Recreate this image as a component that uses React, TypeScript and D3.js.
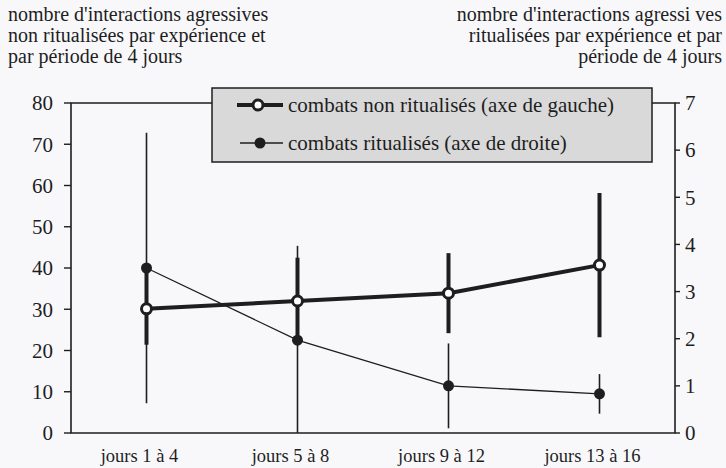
import React from "react";
import * as d3 from "d3";

const categories = ["jours 1 à 4", "jours 5 à 8", "jours 9 à 12", "jours 13 à 16"];
const nonRitMean = [30.1, 32.0, 33.9, 40.7];
const nonRitErr = [8.7, 10.5, 9.7, 17.5];
const ritMean = [3.5, 1.97, 1.0, 0.83];
const ritErr = [2.87, 2.0, 0.9, 0.42];
const leftTicks = [0, 10, 20, 30, 40, 50, 60, 70, 80];
const rightTicks = [0, 1, 2, 3, 4, 5, 6, 7];
const leftTitle = ["nombre d'interactions agressives", "non ritualisées par expérience et", "par période de 4 jours"];
const rightTitle = ["nombre d'interactions agressi ves", "ritualisées par expérience et par", "période de 4 jours"];
const legendLabels = ["combats non ritualisés (axe de gauche)", "combats ritualisés (axe de droite)"];

const W = 726, H = 468;
const L = 71, R = 675, T = 103, B = 433;
const FONT = "Liberation Serif, DejaVu Serif, serif";
const INK = "#1e1e1e";

export default function App() {
  const x = d3.scalePoint<string>().domain(categories).range([L, R]).padding(0.5);
  const yL = d3.scaleLinear().domain([0, 80]).range([B, T]);
  const yR = d3.scaleLinear().domain([0, 7]).range([B, T]);

  const nonRit = categories.map((c, i) => ({ c, m: nonRitMean[i], e: nonRitErr[i] }));
  const rit = categories.map((c, i) => ({ c, m: ritMean[i], e: ritErr[i] }));

  const lineL = d3.line<any>().x((d) => x(d.c)!).y((d) => yL(d.m));
  const lineR = d3.line<any>().x((d) => x(d.c)!).y((d) => yR(d.m));
  const ts = { fontFamily: FONT };

  return (
    <svg width={W} height={H} style={{ position: "absolute", left: 0, top: 0, display: "block", fontFamily: FONT }}>
      <rect x={0} y={0} width={W} height={H} fill="#f8f8fb" />
      {leftTitle.map((t, i) => (
        <text key={"lt" + i} style={ts} x={8} y={21 + i * 21} fontSize={20} fill={INK}>{t}</text>
      ))}
      {rightTitle.map((t, i) => (
        <text key={"rt" + i} style={ts} x={722} y={21 + i * 21} fontSize={20} fill={INK} textAnchor="end">{t}</text>
      ))}
      <path d={`M${L},${T}H${R}V${B}H${L}Z`} fill="none" stroke={INK} strokeWidth={1.6} />
      {leftTicks.map((v) => (
        <g key={"l" + v}>
          <line x1={L - 7} x2={L} y1={yL(v)} y2={yL(v)} stroke={INK} strokeWidth={1.4} />
          <text style={ts} x={53} y={yL(v)} dy="0.35em" fontSize={21} textAnchor="end" fill={INK}>{v}</text>
        </g>
      ))}
      {rightTicks.map((v) => (
        <g key={"r" + v}>
          <line x1={R} x2={R + 5} y1={yR(v)} y2={yR(v)} stroke={INK} strokeWidth={1.4} />
          <text style={ts} x={685} y={yR(v)} dy="0.35em" fontSize={21} fill={INK}>{v}</text>
        </g>
      ))}
      {categories.map((c) => (
        <text key={c} style={ts} x={x(c)! - 7} y={462} fontSize={18.5} textAnchor="middle" fill={INK}>{c}</text>
      ))}
      {rit.map((d) => (
        <line key={"re" + d.c} x1={x(d.c)} x2={x(d.c)} y1={yR(d.m + d.e)} y2={yR(Math.max(0, d.m - d.e))} stroke={INK} strokeWidth={1.6} />
      ))}
      {nonRit.map((d) => (
        <line key={"ne" + d.c} x1={x(d.c)} x2={x(d.c)} y1={yL(d.m + d.e)} y2={yL(Math.max(0, d.m - d.e))} stroke={INK} strokeWidth={4} />
      ))}
      <path d={lineR(rit)!} fill="none" stroke={INK} strokeWidth={1.3} />
      <path d={lineL(nonRit)!} fill="none" stroke={INK} strokeWidth={4} />
      {rit.map((d) => (
        <circle key={"rp" + d.c} cx={x(d.c)} cy={yR(d.m)} r={5.5} fill={INK} />
      ))}
      {nonRit.map((d) => (
        <circle key={"np" + d.c} cx={x(d.c)} cy={yL(d.m)} r={5} fill="#fff" stroke={INK} strokeWidth={3} />
      ))}
      <rect x={212} y={88} width={440} height={74} fill="#d9d9d9" stroke={INK} strokeWidth={1.5} />
      <line x1={237} x2={283} y1={105} y2={105} stroke={INK} strokeWidth={4} />
      <circle cx={258} cy={105} r={5} fill="#fff" stroke={INK} strokeWidth={3} />
      <text style={ts} x={288} y={105} dy="0.35em" fontSize={21} fill={INK}>{legendLabels[0]}</text>
      <line x1={240} x2={283} y1={143} y2={143} stroke={INK} strokeWidth={1.3} />
      <circle cx={260} cy={143} r={5.5} fill={INK} />
      <text style={ts} x={288} y={143} dy="0.35em" fontSize={21} fill={INK}>{legendLabels[1]}</text>
    </svg>
  );
}
